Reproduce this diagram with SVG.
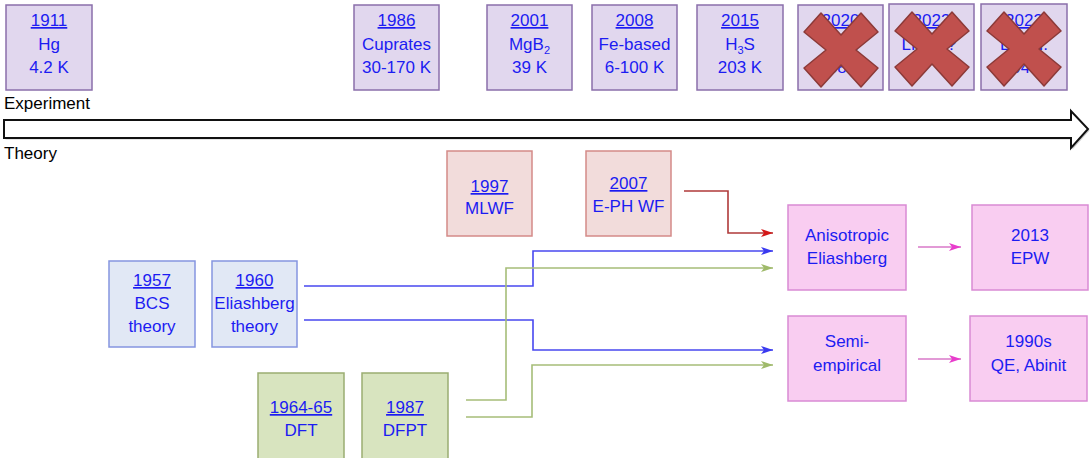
<svg xmlns="http://www.w3.org/2000/svg" width="1090" height="458" viewBox="0 0 1090 458">
<style>
text{font-family:"Liberation Sans",Arial,sans-serif;font-size:17px;text-anchor:middle;fill:#1c1cf2}
.lbl{fill:#000;text-anchor:start}
.u{text-decoration:underline}
.exp{fill:#e1d7ee;stroke:#8a6fab;stroke-width:1.5}
.red{fill:#f2dcdb;stroke:#d48a88;stroke-width:1.5}
.blu{fill:#e1e8f5;stroke:#8595e0;stroke-width:1.5}
.grn{fill:#d8e4bf;stroke:#9aad72;stroke-width:1.5}
.pnk{fill:#f9cdf1;stroke:#d98ad4;stroke-width:1.5}
.x{fill:#c0504d;stroke:#8c3a38;stroke-width:1.5;stroke-linejoin:round}
.c{fill:none;stroke-width:1.6}
</style>
<defs>
<marker id="aR" viewBox="0 0 12 8" refX="12" refY="4" markerWidth="12" markerHeight="8" markerUnits="userSpaceOnUse" orient="auto"><path d="M0,0 L12,4 L0,8 L3,4 z" fill="#d41818"/></marker>
<marker id="aB" viewBox="0 0 12 8" refX="12" refY="4" markerWidth="12" markerHeight="8" markerUnits="userSpaceOnUse" orient="auto"><path d="M0,0 L12,4 L0,8 L3,4 z" fill="#3a3af0"/></marker>
<marker id="aG" viewBox="0 0 12 8" refX="12" refY="4" markerWidth="12" markerHeight="8" markerUnits="userSpaceOnUse" orient="auto"><path d="M0,0 L12,4 L0,8 L3,4 z" fill="#9fba6a"/></marker>
<marker id="aP" viewBox="0 0 12 8" refX="12" refY="4" markerWidth="12" markerHeight="8" markerUnits="userSpaceOnUse" orient="auto"><path d="M0,0 L12,4 L0,8 L3,4 z" fill="#e83ccc"/></marker>
<polygon id="xs" points="-37,-18 -20,-37 0,-15 20,-37 37,-18 15,0 37,18 20,37 0,15 -20,37 -37,18 -15,0"/>
</defs>

<!-- timeline arrow -->
<g id="timeline">
<polygon points="5.5,121.5 1072.5,121.5 1072.5,112.5 1089.5,130.5 1072.5,149.5 1072.5,139.5 5.5,139.5" fill="#9a9a9a" opacity="0.5"/>
<polygon points="4,120 1071,120 1071,111 1088,129 1071,148 1071,138 4,138" fill="#fff" stroke="#111" stroke-width="2"/>
<text class="lbl" x="4" y="109">Experiment</text>
<text class="lbl" x="4" y="159">Theory</text>
</g>

<!-- experiment nodes -->
<g id="n1911"><rect class="exp" x="6" y="5" width="86" height="85"/><text x="49" y="26"><tspan class="u">1911</tspan></text><text x="49" y="50">Hg</text><text x="49" y="73">4.2 K</text></g>
<g id="n1986"><rect class="exp" x="354" y="5" width="85" height="85"/><text x="396.5" y="26"><tspan class="u">1986</tspan></text><text x="396.5" y="50">Cuprates</text><text x="396.5" y="73">30-170 K</text></g>
<g id="n2001"><rect class="exp" x="487" y="5" width="85" height="85"/><text x="529.5" y="26"><tspan class="u">2001</tspan></text><text x="529.5" y="50">MgB<tspan font-size="11" dy="4">2</tspan></text><text x="529.5" y="73">39 K</text></g>
<g id="n2008"><rect class="exp" x="592" y="5" width="85" height="85"/><text x="634.5" y="26"><tspan class="u">2008</tspan></text><text x="634.5" y="50">Fe-based</text><text x="634.5" y="73">6-100 K</text></g>
<g id="n2015"><rect class="exp" x="697" y="5" width="86" height="85"/><text x="740" y="26"><tspan class="u">2015</tspan></text><text x="740" y="50">H<tspan font-size="11" dy="4">3</tspan><tspan dy="-4">S</tspan></text><text x="740" y="73">203 K</text></g>
<g id="n2020"><rect class="exp" x="798" y="5" width="85" height="85"/><text x="840.5" y="26"><tspan class="u">2020</tspan></text><text x="840.5" y="50">CSH</text><text x="840.5" y="73">288 K</text><use href="#xs" class="x" transform="translate(841,50)"/></g>
<g id="n2023a"><rect class="exp" x="889" y="4" width="85" height="86"/><text x="931.5" y="26"><tspan class="u">2023</tspan></text><text x="929" y="50">LK-99?</text><use href="#xs" class="x" transform="translate(932,49)"/></g>
<g id="n2023b"><rect class="exp" x="981" y="4" width="86" height="86"/><text x="1024" y="26"><tspan class="u">2023</tspan></text><text x="1024" y="50">LuHN.</text><text x="1024" y="73">294 K</text><use href="#xs" class="x" transform="translate(1024,49)"/></g>

<!-- theory nodes -->
<g id="n1997"><rect class="red" x="447" y="151" width="85" height="85"/><text x="489.5" y="192"><tspan class="u">1997</tspan></text><text x="489.5" y="214">MLWF</text></g>
<g id="n2007"><rect class="red" x="586" y="151" width="85" height="85"/><text x="628.5" y="189"><tspan class="u">2007</tspan></text><text x="628.5" y="212">E-PH WF</text></g>
<g id="n1957"><rect class="blu" x="109" y="261" width="86" height="86"/><text x="152" y="286"><tspan class="u">1957</tspan></text><text x="152" y="309">BCS</text><text x="152" y="332">theory</text></g>
<g id="n1960"><rect class="blu" x="212" y="261" width="85" height="86"/><text x="254.5" y="286"><tspan class="u">1960</tspan></text><text x="254.5" y="309">Eliashberg</text><text x="254.5" y="332">theory</text></g>
<g id="n1964"><rect class="grn" x="258" y="373" width="86" height="92"/><text x="301" y="413"><tspan class="u">1964-65</tspan></text><text x="301" y="436">DFT</text></g>
<g id="n1987"><rect class="grn" x="362" y="373" width="86" height="92"/><text x="405" y="413"><tspan class="u">1987</tspan></text><text x="405" y="436">DFPT</text></g>
<g id="nAniso"><rect class="pnk" x="788" y="205" width="118" height="85"/><text x="847" y="241">Anisotropic</text><text x="847" y="264">Eliashberg</text></g>
<g id="nEPW"><rect class="pnk" x="972" y="205" width="116" height="85"/><text x="1030" y="241">2013</text><text x="1030" y="264">EPW</text></g>
<g id="nSemi"><rect class="pnk" x="788" y="316" width="118" height="85"/><text x="847" y="347">Semi-</text><text x="847" y="371">empirical</text></g>
<g id="nQE"><rect class="pnk" x="970" y="316" width="117" height="85"/><text x="1028.5" y="347">1990s</text><text x="1028.5" y="371">QE, Abinit</text></g>

<!-- connectors -->
<g id="connectors">
<path class="c" d="M684,191 H728 V233 H773" stroke="#b03a3a" marker-end="url(#aR)"/>
<path class="c" d="M304,286 H533 V251 H773" stroke="#4848f0" marker-end="url(#aB)"/>
<path class="c" d="M304,320 H533 V350 H773" stroke="#4848f0" marker-end="url(#aB)"/>
<path class="c" d="M466,400 H506 V268 H773" stroke="#a6bd78" marker-end="url(#aG)"/>
<path class="c" d="M466,417 H532 V365 H773" stroke="#a6bd78" marker-end="url(#aG)"/>
<path class="c" d="M918,247 H961" stroke="#d878c8" marker-end="url(#aP)"/>
<path class="c" d="M918,359 H961" stroke="#d878c8" marker-end="url(#aP)"/>
</g>
</svg>
